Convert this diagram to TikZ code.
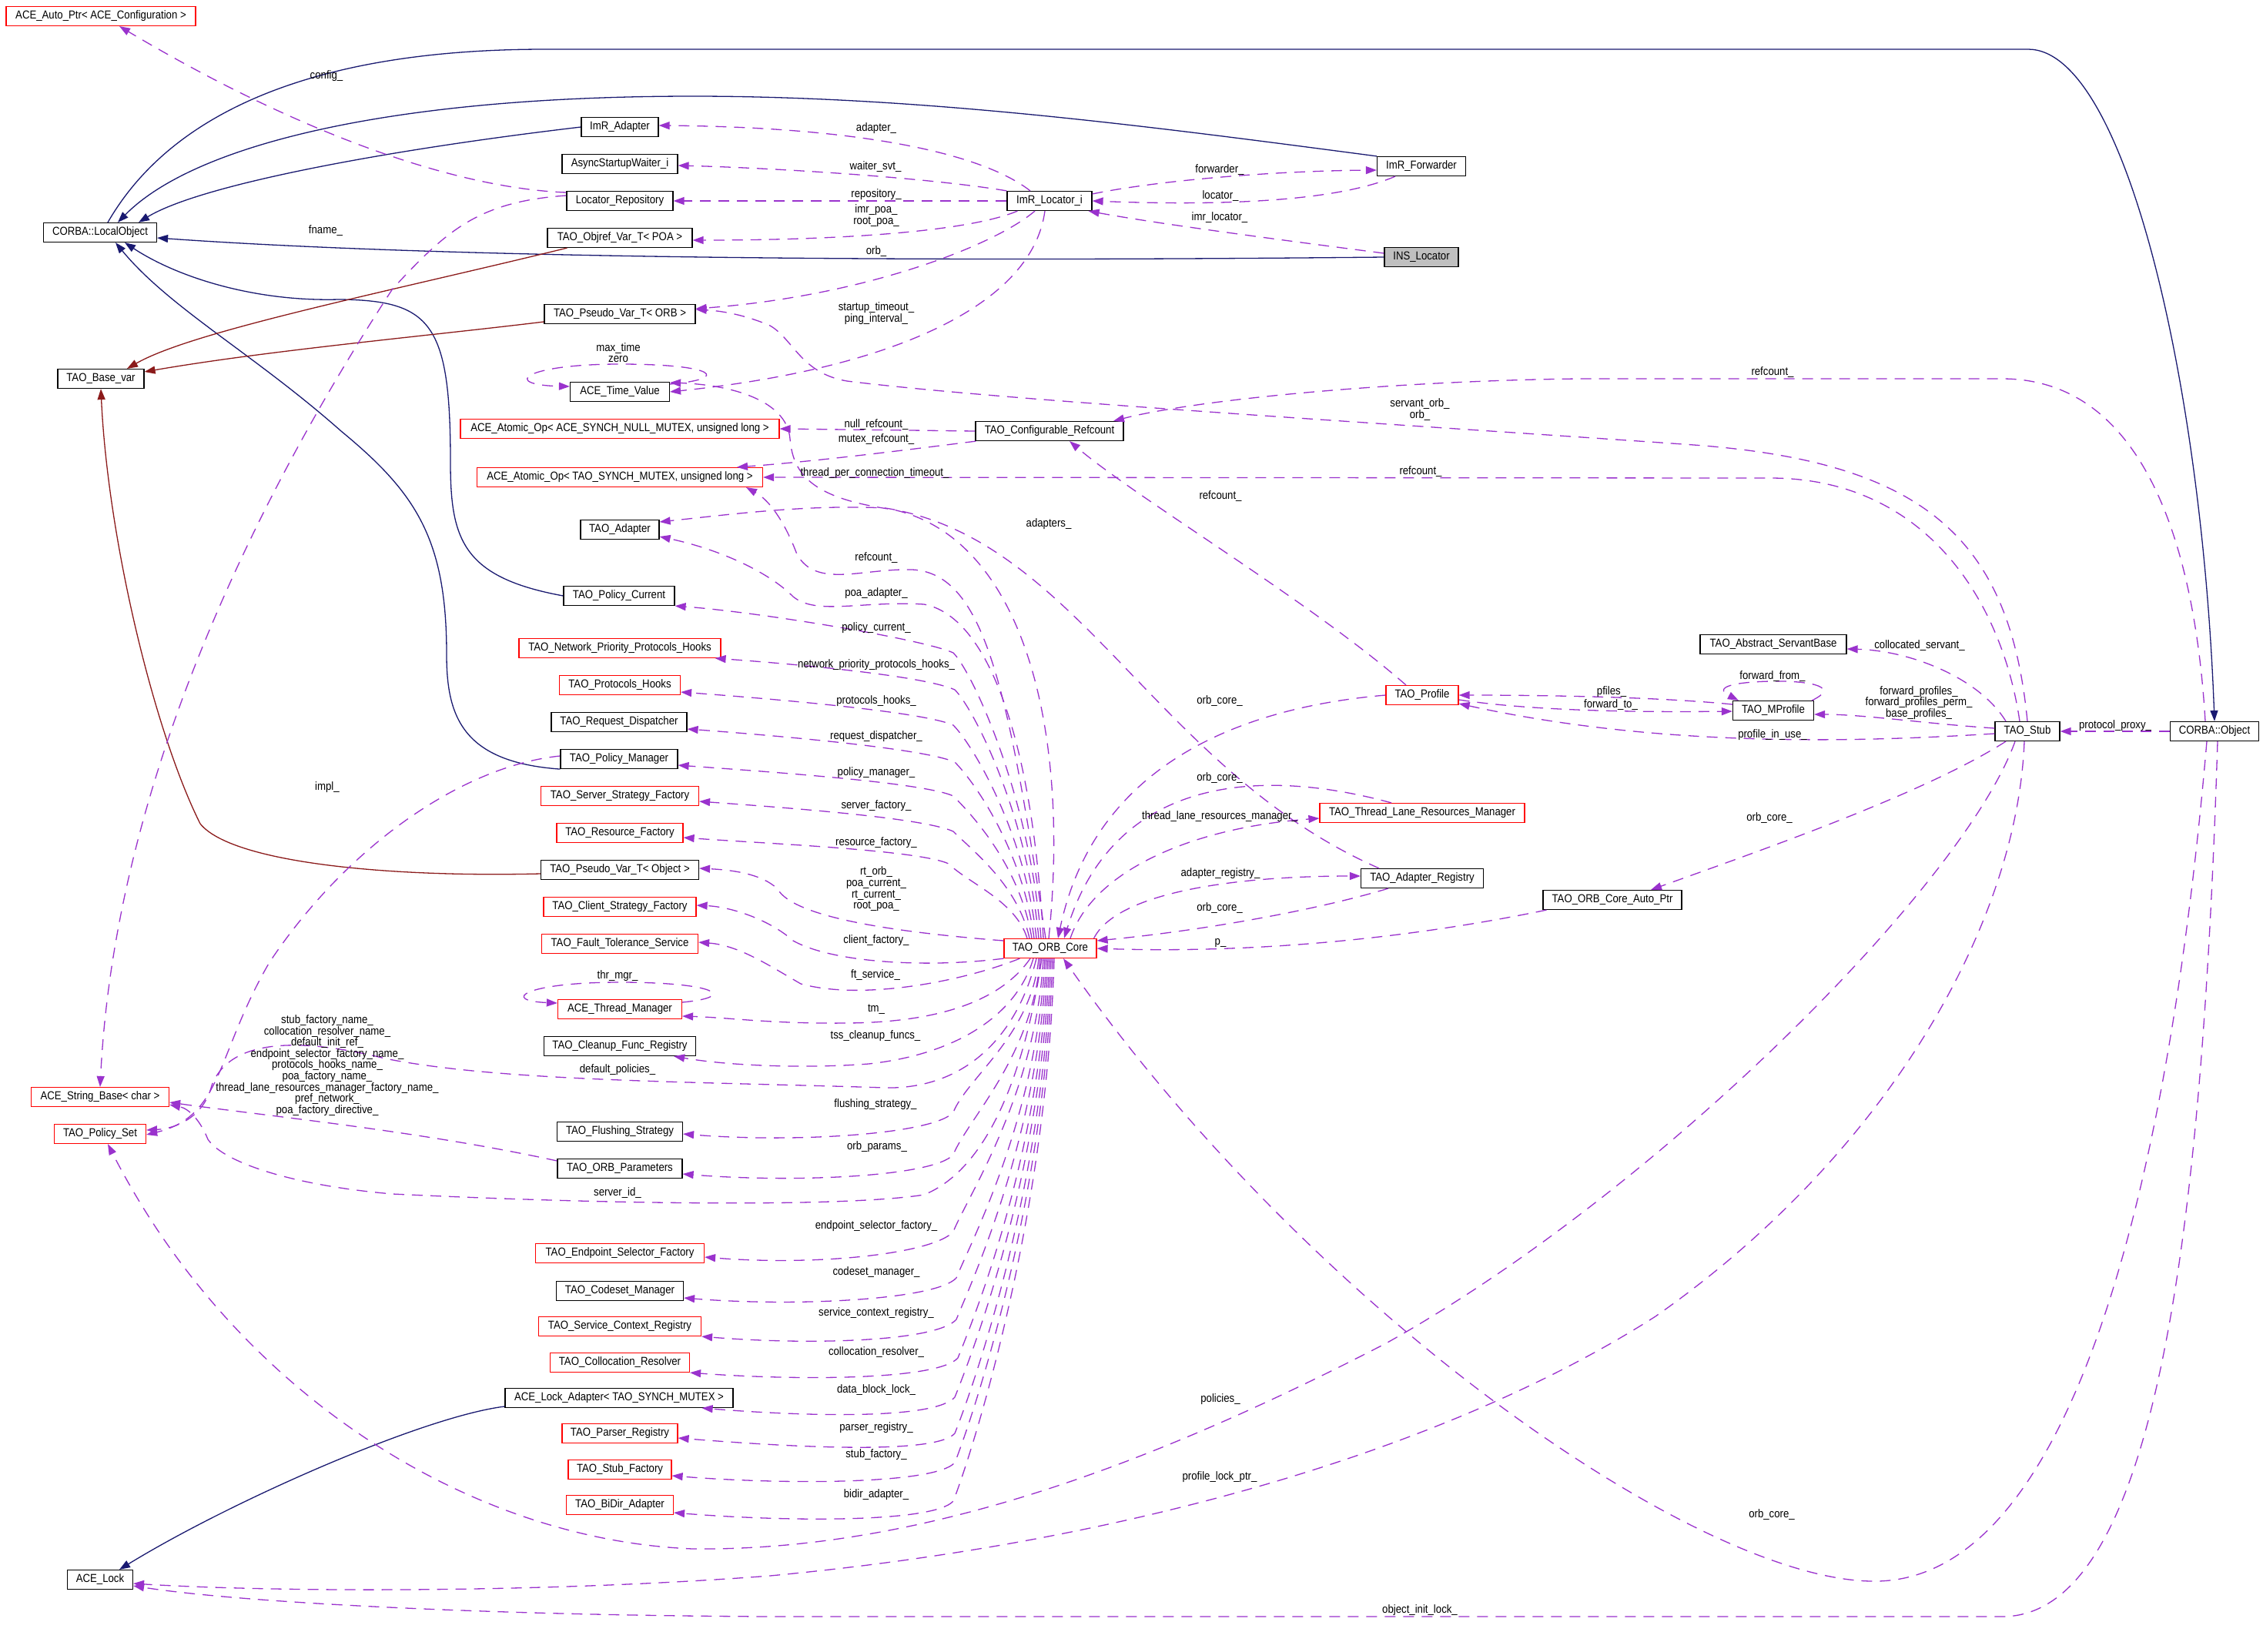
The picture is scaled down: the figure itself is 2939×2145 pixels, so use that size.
\documentclass[tikz,border=0pt]{standalone}
\usepackage{fontspec}
\setmainfont{Liberation Sans}[FakeStretch=0.88]
\usetikzlibrary{arrows.meta}
\definecolor{navyc}{HTML}{191970}
\definecolor{redc}{HTML}{8B1A1A}
\definecolor{purp}{HTML}{9A32CD}
\definecolor{nodegrey}{HTML}{BFBFBF}
\newcommand{\dfont}{\fontsize{15}{14.6}\selectfont}
\begin{document}
\begin{tikzpicture}[x=1pt,y=-1pt,
  every node/.style={font=\dfont, inner sep=0pt},
  cls/.style={draw=black, line width=1.2pt, minimum height=25pt, fill=white, inner xsep=4pt},
  redcls/.style={cls, draw=red},
  lbl/.style={align=center},
  inh/.style={draw=navyc, line width=1.3pt, -{Triangle[length=14pt,width=10pt]}},
  priv/.style={draw=redc, line width=1.3pt, -{Triangle[length=14pt,width=10pt]}},
  uses/.style={draw=purp, line width=1.3pt, dash pattern=on 14pt off 10pt, -{Triangle[length=14pt,width=10pt]}},
]
\fill[white] (0,0) rectangle (2939,2145);
\useasboundingbox (0,0) rectangle (2939,2145);

% ---------------- nodes ----------------
\node[redcls, minimum width=246pt] (autoptr) at (131,21) {ACE\_Auto\_Ptr< ACE\_Configuration >};
\node[cls, minimum width=100pt] (imra) at (805,165) {ImR\_Adapter};
\node[cls, minimum width=150pt] (async) at (805,213) {AsyncStartupWaiter\_i};
\node[cls, minimum width=138pt] (locrep) at (805,261) {Locator\_Repository};
\node[cls, minimum width=147pt] (localobj) at (130,302) {CORBA::LocalObject};
\node[cls, minimum width=188pt] (objref) at (805,309) {TAO\_Objref\_Var\_T< POA >};
\node[cls, minimum width=196pt] (pseudoorb) at (805,408) {TAO\_Pseudo\_Var\_T< ORB >};
\node[cls, minimum width=112pt] (basevar) at (131,492) {TAO\_Base\_var};
\node[cls, minimum width=129pt] (timeval) at (805,509) {ACE\_Time\_Value};
\node[redcls, minimum width=414pt] (atomnull) at (805,557) {ACE\_Atomic\_Op< ACE\_SYNCH\_NULL\_MUTEX, unsigned long >};
\node[redcls, minimum width=371pt] (atomtao) at (805,620) {ACE\_Atomic\_Op< TAO\_SYNCH\_MUTEX, unsigned long >};
\node[cls, minimum width=102pt] (adapter) at (805,688) {TAO\_Adapter};
\node[cls, minimum width=144pt] (polcur) at (804,774) {TAO\_Policy\_Current};
\node[redcls, minimum width=262pt] (netprio) at (805,842) {TAO\_Network\_Priority\_Protocols\_Hooks};
\node[redcls, minimum width=157pt] (prothooks) at (805,890) {TAO\_Protocols\_Hooks};
\node[cls, minimum width=176pt] (reqdisp) at (804,938) {TAO\_Request\_Dispatcher};
\node[cls, minimum width=152pt] (polman) at (804,986) {TAO\_Policy\_Manager};
\node[redcls, minimum width=205pt] (ssf) at (805,1034) {TAO\_Server\_Strategy\_Factory};
\node[redcls, minimum width=164pt] (resfac) at (805,1082) {TAO\_Resource\_Factory};
\node[cls, minimum width=205pt] (pseudoobj) at (805,1130) {TAO\_Pseudo\_Var\_T< Object >};
\node[redcls, minimum width=198pt] (csf) at (805,1178) {TAO\_Client\_Strategy\_Factory};
\node[redcls, minimum width=203pt] (fts) at (805,1226) {TAO\_Fault\_Tolerance\_Service};
\node[redcls, minimum width=161pt] (thrmgr) at (805,1311) {ACE\_Thread\_Manager};
\node[cls, minimum width=197pt] (cleanup) at (805,1359) {TAO\_Cleanup\_Func\_Registry};
\node[redcls, minimum width=179pt] (strbase) at (130,1425) {ACE\_String\_Base< char >};
\node[redcls, minimum width=119pt] (polset) at (130,1473) {TAO\_Policy\_Set};
\node[cls, minimum width=163pt] (flush) at (805,1470) {TAO\_Flushing\_Strategy};
\node[cls, minimum width=162pt] (orbparams) at (805,1518) {TAO\_ORB\_Parameters};
\node[redcls, minimum width=219pt] (esf) at (805,1628) {TAO\_Endpoint\_Selector\_Factory};
\node[cls, minimum width=165pt] (codeset) at (805,1677) {TAO\_Codeset\_Manager};
\node[redcls, minimum width=211pt] (scr) at (805,1723) {TAO\_Service\_Context\_Registry};
\node[redcls, minimum width=181pt] (collres) at (805,1770) {TAO\_Collocation\_Resolver};
\node[cls, minimum width=296pt] (lockad) at (804,1816) {ACE\_Lock\_Adapter< TAO\_SYNCH\_MUTEX >};
\node[redcls, minimum width=150pt] (parser) at (805,1862) {TAO\_Parser\_Registry};
\node[redcls, minimum width=134pt] (stubfac) at (805,1909) {TAO\_Stub\_Factory};
\node[redcls, minimum width=139pt] (bidir) at (805,1955) {TAO\_BiDir\_Adapter};
\node[cls, minimum width=85pt] (acelock) at (130,2052) {ACE\_Lock};
\node[cls, minimum width=110pt] (imrl) at (1363,261) {ImR\_Locator\_i};
\node[cls, minimum width=115pt] (imrf) at (1846,216) {ImR\_Forwarder};
\node[cls, fill=nodegrey, minimum width=96pt] (ins) at (1846,334) {INS\_Locator};
\node[cls, minimum width=192pt] (cref) at (1363,560) {TAO\_Configurable\_Refcount};
\node[redcls, minimum width=94pt] (profile) at (1847,903) {TAO\_Profile};
\node[redcls, minimum width=266pt] (tlrm) at (1847,1056) {TAO\_Thread\_Lane\_Resources\_Manager};
\node[cls, minimum width=159pt] (areg) at (1847,1141) {TAO\_Adapter\_Registry};
\node[redcls, minimum width=120pt] (orbcore) at (1364,1232) {TAO\_ORB\_Core};
\node[cls, minimum width=180pt] (autoptrorb) at (2094,1169) {TAO\_ORB\_Core\_Auto\_Ptr};
\node[cls, minimum width=190pt] (asb) at (2303,837) {TAO\_Abstract\_ServantBase};
\node[cls, minimum width=105pt] (mprofile) at (2303,923) {TAO\_MProfile};
\node[cls, minimum width=84pt] (stub) at (2633,950) {TAO\_Stub};
\node[cls, minimum width=115pt] (corbaobj) at (2876,950) {CORBA::Object};

% ---------------- inheritance ----------------
\draw[inh] (imra.west) .. controls (500,195) and (260,240) .. ([xshift=50pt]localobj.north);
\draw[inh] (imrf.north west) .. controls (1500,165) and (1200,125) .. (900,125) .. controls (500,125) and (250,190) .. ([xshift=23pt]localobj.north);
\draw[inh] ([xshift=10pt]localobj.north) .. controls (220,150) and (400,64) .. (708,64) -- (2634,64) .. controls (2760,64) and (2860,500) .. (corbaobj.north);
\draw[inh] (ins.west) .. controls (1000,342) and (500,330) .. ([yshift=-7pt]localobj.east);
\draw[inh] (polcur.west) .. controls (600,750) and (585,700) .. (585,600) .. controls (585,420) and (560,390) .. (440,389) .. controls (330,392) and (230,360) .. ([xshift=32pt]localobj.south);
\draw[inh] (polman.south west) .. controls (600,990) and (580,930) .. (580,850) .. controls (580,700) and (540,640) .. (443,560) .. controls (330,460) and (220,400) .. ([xshift=20pt]localobj.south);
\draw[priv] ([xshift=26pt]objref.south west) .. controls (500,380) and (250,430) .. ([xshift=34pt]basevar.north);
\draw[priv] ([yshift=-10pt]pseudoorb.west) .. controls (550,437) and (350,455) .. ([yshift=9pt]basevar.east);
\draw[priv] ([yshift=-5pt]pseudoobj.west) .. controls (500,1140) and (300,1120) .. (260,1070) .. controls (200,950) and (140,700) .. (basevar.south);
\draw[inh] ([yshift=-11pt]lockad.west) .. controls (550,1840) and (300,1950) .. ([xshift=25pt]acelock.north);

% ---------------- usage: left part ----------------
\draw[uses] ([yshift=11pt]locrep.west) .. controls (600,245) and (400,180) .. ([xshift=24pt]autoptr.south);
\draw[uses] ([yshift=7pt]locrep.west) .. controls (620,262) and (580,300) .. (510,375) .. controls (350,620) and (150,1000) .. (strbase.north);
\draw[uses] ([yshift=4pt]polman.west) .. controls (600,995) and (450,1100) .. (350,1250) .. controls (280,1370) and (290,1450) .. ([yshift=-1pt]polset.east);
\draw[uses] ([yshift=10pt]orbparams.west) .. controls (550,1470) and (350,1450) .. ([yshift=-7pt]strbase.east);

% ImR_Locator_i
\draw[uses] ([xshift=-25pt]imrl.north) .. controls (1270,195) and (1100,165) .. ([yshift=2pt]imra.east);
\draw[uses] (imrl.north west) .. controls (1200,230) and (1000,218) .. ([yshift=-2pt]async.east);
\draw[uses] (imrl.west) -- (locrep.east);
\draw[uses] ([xshift=14pt]imrl.south west) .. controls (1260,300) and (1100,312) .. ([yshift=-3pt]objref.east);
\draw[uses] ([xshift=-19pt]imrl.south) .. controls (1290,320) and (1120,385) .. ([yshift=7pt]pseudoorb.east);
\draw[uses] ([xshift=-6pt]imrl.south) .. controls (1340,400) and (1150,480) .. (timeval.east);
\draw[uses] ([yshift=9pt]imrl.east) .. controls (1500,235) and (1650,222) .. ([yshift=-5pt]imrf.west);
\draw[uses] ([xshift=-34pt]imrf.south) .. controls (1740,260) and (1600,268) .. (imrl.east);
\draw[uses] ([yshift=5pt]ins.west) .. controls (1650,310) and (1500,290) .. ([xshift=-5pt]imrl.south east);

% refcount stuff
\draw[uses] (cref.west) -- (atomnull.east);
\draw[uses] ([xshift=1pt]cref.south west) .. controls (1150,588) and (1050,600) .. ([xshift=152pt]atomtao.north);
\draw[uses] ([xshift=-21pt]profile.north) .. controls (1700,780) and (1480,650) .. ([xshift=26pt]cref.south);
\draw[uses] ([xshift=-12pt]corbaobj.north) .. controls (2850,700) and (2780,492) .. (2600,492) -- (2050,492) .. controls (1800,495) and (1550,520) .. ([xshift=83pt]cref.north);

% TAO_Stub and friends
\draw[uses] (corbaobj.west) -- (stub.east);
\draw[uses] ([xshift=-28pt]stub.north) .. controls (2570,880) and (2480,845) .. ([yshift=-6pt]asb.east);
\draw[uses] ([yshift=4pt]stub.west) .. controls (2500,940) and (2420,928) .. ([yshift=-5pt]mprofile.east);
\draw[uses] ([yshift=-3pt]stub.west) .. controls (2400,965) and (2150,970) .. ([yshift=-11pt]profile.east);
\draw[uses] (stub.north) .. controls (2610,700) and (2500,600) .. (2200,578) .. controls (1800,550) and (1300,520) .. (1100,495) .. controls (1040,485) and (1030,440) .. (1000,423) .. controls (970,410) and (940,404) .. ([yshift=6pt]pseudoorb.east);
\draw[uses] ([xshift=-10pt]stub.north) .. controls (2600,780) and (2500,621) .. (2299,621) -- (atomtao.east);
\draw[uses] ([xshift=-28pt]stub.south) .. controls (2500,1030) and (2300,1100) .. ([xshift=50pt]autoptrorb.north);
\draw[uses] ([xshift=-16pt]stub.south) .. controls (2550,1150) and (2150,1550) .. (1800,1745) .. controls (1500,1900) and (1200,2015) .. (900,2012) .. controls (600,2000) and (300,1800) .. ([xshift=10pt]polset.south);
\draw[uses] ([xshift=-4pt]stub.south) .. controls (2620,1200) and (2450,1500) .. (2150,1710) .. controls (1900,1870) and (1500,2000) .. (1000,2047) .. controls (700,2070) and (350,2068) .. ([yshift=-5pt]acelock.east);
\draw[uses] ([xshift=-10pt]corbaobj.south) .. controls (2820,1500) and (2700,2060) .. (2430,2054) .. controls (2200,2050) and (1700,1700) .. ([xshift=17pt]orbcore.south);
\draw[uses] ([xshift=4pt]corbaobj.south) .. controls (2860,1600) and (2800,2100) .. (2600,2100) -- (1000,2100) .. controls (600,2098) and (300,2080) .. ([yshift=-8pt]acelock.east);
\draw[uses] ([yshift=8pt]mprofile.west) .. controls (2150,905) and (2000,903) .. (profile.east);
\draw[uses] ([yshift=-6pt]profile.east) .. controls (2000,925) and (2150,925) .. ([yshift=-1pt]mprofile.west);
\draw[uses] ([xshift=-3pt]mprofile.north east) .. controls (2395,890) and (2340,884) .. (2300,885) .. controls (2250,886) and (2225,893) .. ([xshift=8pt]mprofile.north west);

% ORB core right side
\draw[uses] (profile.west) .. controls (1600,920) and (1420,1000) .. ([xshift=10pt]orbcore.north);
\draw[uses] ([xshift=-40pt]tlrm.north) .. controls (1650,1000) and (1450,1000) .. ([xshift=18pt]orbcore.north);
\draw[uses] ([xshift=26pt]orbcore.north) .. controls (1420,1130) and (1550,1075) .. ([yshift=-7pt]tlrm.west);
\draw[uses] ([xshift=-4pt]orbcore.north east) .. controls (1450,1160) and (1600,1138) .. ([yshift=3pt]areg.west);
\draw[uses] ([xshift=-44pt]areg.south) .. controls (1700,1185) and (1550,1210) .. ([yshift=10pt]orbcore.east);
\draw[uses] ([xshift=5pt]autoptrorb.south west) .. controls (1800,1225) and (1600,1238) .. (orbcore.east);
\draw[uses] ([xshift=-56pt]areg.north) .. controls (1500,1000) and (1400,700) .. (1150,660) .. controls (1050,655) and (950,668) .. ([yshift=10pt]adapter.east);

% ORB core -> upper column
\draw[uses] ([xshift=-2pt]orbcore.north) .. controls (1390,950) and (1330,700) .. (1160,662) .. controls (1060,648) and (1030,620) .. (1026,570) .. controls (1022,520) and (950,500) .. ([yshift=12pt]timeval.east);
\draw[uses] ([xshift=-6pt]orbcore.north) .. controls (1310,900) and (1280,745) .. (1185,740) .. controls (1120,738) and (1060,765) .. (1035,720) .. controls (1020,680) and (1000,650) .. ([xshift=164pt]atomtao.south);
\draw[uses] ([xshift=-9pt]orbcore.north) .. controls (1340,950) and (1280,800) .. (1200,785) .. controls (1120,780) and (1060,800) .. (1030,775) .. controls (1000,745) and (940,715) .. ([yshift=-9pt]adapter.east);
\draw[uses] ([xshift=-12pt]orbcore.north) .. controls (1337,1033) and (1263,873) .. (1238,848) .. controls (1198,830) and (984,795) .. (polcur.south east);
\draw[uses] ([xshift=-15pt]orbcore.north) .. controls (1334,1057) and (1265,921) .. (1240,896) .. controls (1200,878) and (1038,863) .. ([xshift=-8pt]netprio.south east);
\draw[uses] ([xshift=-18pt]orbcore.north) .. controls (1331,1080) and (1263,967) .. (1238,942) .. controls (1198,924) and (993,907) .. ([yshift=-9pt]prothooks.east);
\draw[uses] ([xshift=-21pt]orbcore.north) .. controls (1328,1104) and (1265,1015) .. (1240,990) .. controls (1200,972) and (1002,955) .. ([yshift=-9pt]reqdisp.east);
\draw[uses] ([xshift=-24pt]orbcore.north) .. controls (1325,1126) and (1263,1059) .. (1238,1034) .. controls (1198,1016) and (990,1002) .. ([yshift=-8pt]polman.east);
\draw[uses] ([xshift=-27pt]orbcore.north) .. controls (1322,1150) and (1263,1105) .. (1238,1080) .. controls (1198,1062) and (1018,1049) .. ([yshift=-7pt]ssf.east);
\draw[uses] ([xshift=-30pt]orbcore.north) .. controls (1319,1170) and (1257,1147) .. (1232,1122) .. controls (1192,1104) and (997,1096) .. ([yshift=-6pt]resfac.east);
\draw[uses] ([yshift=10pt]orbcore.west) .. controls (1150,1210) and (1030,1190) .. (1010,1155) .. controls (990,1135) and (950,1130) .. ([yshift=2pt]pseudoobj.east);
\draw[uses] (orbcore.south west) .. controls (1200,1258) and (1080,1250) .. (1030,1222) .. controls (1000,1195) and (950,1178) .. ([yshift=2pt]csf.east);
\draw[uses] ([xshift=21pt]orbcore.south west) .. controls (1250,1275) and (1120,1300) .. (1040,1278) .. controls (1000,1255) and (960,1228) .. ([yshift=2pt]fts.east);
\draw[uses] ([xshift=-26pt]orbcore.south) .. controls (1300,1300) and (1220,1328) .. (1100,1329) .. controls (1000,1330) and (950,1322) .. ([yshift=-9pt]thrmgr.east);
\draw[uses] ([xshift=-22pt]orbcore.south) .. controls (1320,1320) and (1240,1370) .. (1128,1382) .. controls (1050,1388) and (950,1385) .. ([xshift=-29pt]cleanup.south east);
\draw[uses] ([xshift=-18pt]orbcore.south) .. controls (1320,1350) and (1250,1415) .. (1150,1413) .. controls (900,1405) and (650,1405) .. (500,1375) .. controls (400,1350) and (300,1345) .. (275,1410) .. controls (265,1450) and (230,1466) .. ([yshift=5pt]polset.east);
\draw[uses] ([xshift=-11pt]orbcore.south) .. controls (1330,1400) and (1280,1520) .. (1200,1552) .. controls (1100,1568) and (800,1565) .. (510,1551) .. controls (380,1540) and (290,1510) .. (270,1480) .. controls (260,1455) and (245,1440) .. ([yshift=-10pt]strbase.east);

% ORB core -> lower column
\draw[uses] ([xshift=-15pt]orbcore.south) .. controls (1339,1345) and (1256,1400) .. (1238,1445) .. controls (1213,1473) and (1036,1485) .. ([yshift=-3pt]flush.east);
\draw[uses] ([xshift=-13pt]orbcore.south) .. controls (1341,1372) and (1256,1455) .. (1238,1500) .. controls (1213,1528) and (1036,1537) .. ([yshift=-7pt]orbparams.east);
\draw[uses] ([xshift=-9pt]orbcore.south) .. controls (1345,1422) and (1256,1555) .. (1238,1600) .. controls (1213,1628) and (1065,1645) .. ([yshift=-5pt]esf.east);
\draw[uses] ([xshift=-7pt]orbcore.south) .. controls (1347,1452) and (1260,1615) .. (1242,1660) .. controls (1217,1688) and (1037,1698) .. ([yshift=-9pt]codeset.east);
\draw[uses] ([xshift=-5pt]orbcore.south) .. controls (1349,1479) and (1260,1669) .. (1242,1714) .. controls (1217,1742) and (1060,1748) .. (scr.south east);
\draw[uses] ([xshift=-3pt]orbcore.south) .. controls (1351,1504) and (1262,1719) .. (1244,1764) .. controls (1219,1792) and (1045,1794) .. (collres.south east);
\draw[uses] ([xshift=-1pt]orbcore.south) .. controls (1353,1530) and (1258,1770) .. (1240,1815) .. controls (1215,1843) and (1061,1841) .. ([xshift=-41pt]lockad.south east);
\draw[uses] ([xshift=1pt]orbcore.south) .. controls (1355,1553) and (1258,1817) .. (1240,1862) .. controls (1215,1890) and (1030,1880) .. ([yshift=-6pt]parser.east);
\draw[uses] ([xshift=3pt]orbcore.south) .. controls (1357,1572) and (1258,1855) .. (1240,1900) .. controls (1215,1928) and (1022,1929) .. ([yshift=-8pt]stubfac.east);
\draw[uses] ([xshift=5pt]orbcore.south) .. controls (1359,1597) and (1256,1905) .. (1238,1950) .. controls (1213,1978) and (1024,1977) .. ([yshift=-10pt]bidir.east);

% self loops
\draw[uses] ([yshift=10pt]timeval.east) .. controls (950,492) and (930,473) .. (805,473) .. controls (680,473) and (650,500) .. ([yshift=7pt]timeval.west);
\draw[uses] ([yshift=9pt]thrmgr.east) .. controls (960,1295) and (930,1276) .. (805,1276) .. controls (680,1276) and (650,1300) .. ([yshift=8pt]thrmgr.west);

% ---------------- labels ----------------
\node[lbl] (l01) at (424,99) {config\_};
\node[lbl] (l02) at (423,300) {fname\_};
\node[lbl] (l03) at (803,458) {max\_time\\zero};
\node[lbl] (l04) at (425,1023) {impl\_};
\node[lbl] (l05) at (802,1268) {thr\_mgr\_};
\node[lbl] (l06) at (802,1390) {default\_policies\_};
\node[lbl] (l07) at (802,1550) {server\_id\_};
\node[lbl] (l08) at (425,1384) {stub\_factory\_name\_\\collocation\_resolver\_name\_\\default\_init\_ref\_\\endpoint\_selector\_factory\_name\_\\protocols\_hooks\_name\_\\poa\_factory\_name\_\\thread\_lane\_resources\_manager\_factory\_name\_\\pref\_network\_\\poa\_factory\_directive\_};
\node[lbl] (l09) at (1138,167) {adapter\_};
\node[lbl] (l10) at (1137,217) {waiter\_svt\_};
\node[lbl] (l11) at (1138,253) {repository\_};
\node[lbl] (l12) at (1138,280) {imr\_poa\_\\root\_poa\_};
\node[lbl] (l13) at (1138,327) {orb\_};
\node[lbl] (l14) at (1138,407) {startup\_timeout\_\\ping\_interval\_};
\node[lbl] (l15) at (1138,552) {null\_refcount\_};
\node[lbl] (l16) at (1138,571) {mutex\_refcount\_};
\node[lbl] (l17) at (1136,615) {thread\_per\_connection\_timeout\_};
\node[lbl] (l18) at (1138,725) {refcount\_};
\node[lbl] (l19) at (1138,771) {poa\_adapter\_};
\node[lbl] (l20) at (1138,816) {policy\_current\_};
\node[lbl] (l21) at (1138,864) {network\_priority\_protocols\_hooks\_};
\node[lbl] (l22) at (1138,911) {protocols\_hooks\_};
\node[lbl] (l23) at (1138,957) {request\_dispatcher\_};
\node[lbl] (l24) at (1138,1004) {policy\_manager\_};
\node[lbl] (l25) at (1138,1047) {server\_factory\_};
\node[lbl] (l26) at (1138,1095) {resource\_factory\_};
\node[lbl] (l27) at (1138,1155) {rt\_orb\_\\poa\_current\_\\rt\_current\_\\root\_poa\_};
\node[lbl] (l28) at (1138,1222) {client\_factory\_};
\node[lbl] (l29) at (1137,1267) {ft\_service\_};
\node[lbl] (l30) at (1138,1311) {tm\_};
\node[lbl] (l31) at (1137,1346) {tss\_cleanup\_funcs\_};
\node[lbl] (l32) at (1137,1435) {flushing\_strategy\_};
\node[lbl] (l33) at (1139,1490) {orb\_params\_};
\node[lbl] (l34) at (1138,1593) {endpoint\_selector\_factory\_};
\node[lbl] (l35) at (1138,1653) {codeset\_manager\_};
\node[lbl] (l36) at (1138,1706) {service\_context\_registry\_};
\node[lbl] (l37) at (1138,1757) {collocation\_resolver\_};
\node[lbl] (l38) at (1138,1806) {data\_block\_lock\_};
\node[lbl] (l39) at (1138,1855) {parser\_registry\_};
\node[lbl] (l40) at (1138,1890) {stub\_factory\_};
\node[lbl] (l41) at (1138,1942) {bidir\_adapter\_};
\node[lbl] (l42) at (1584,221) {forwarder\_};
\node[lbl] (l43) at (1585,255) {locator\_};
\node[lbl] (l44) at (1584,283) {imr\_locator\_};
\node[lbl] (l45) at (1585,645) {refcount\_};
\node[lbl] (l46) at (1362,681) {adapters\_};
\node[lbl] (l47) at (1584,911) {orb\_core\_};
\node[lbl] (l48) at (1584,1011) {orb\_core\_};
\node[lbl] (l49) at (1584,1061) {thread\_lane\_resources\_manager\_};
\node[lbl] (l50) at (1585,1135) {adapter\_registry\_};
\node[lbl] (l51) at (1584,1180) {orb\_core\_};
\node[lbl] (l52) at (1585,1225) {p\_};
\node[lbl] (l53) at (1585,1818) {policies\_};
\node[lbl] (l54) at (1584,1919) {profile\_lock\_ptr\_};
\node[lbl] (l55) at (1844,532) {servant\_orb\_\\orb\_};
\node[lbl] (l56) at (1845,613) {refcount\_};
\node[lbl] (l57) at (2302,484) {refcount\_};
\node[lbl] (l58) at (1844,2092) {object\_init\_lock\_};
\node[lbl] (l59) at (2493,839) {collocated\_servant\_};
\node[lbl] (l60) at (2302,879) {forward\_from\_};
\node[lbl] (l61) at (2093,899) {pfiles\_};
\node[lbl] (l62) at (2092,916) {forward\_to\_};
\node[lbl] (l63) at (2492,913) {forward\_profiles\_\\forward\_profiles\_perm\_\\base\_profiles\_};
\node[lbl] (l64) at (2747,943) {protocol\_proxy\_};
\node[lbl] (l65) at (2302,955) {profile\_in\_use\_};
\node[lbl] (l66) at (2298,1063) {orb\_core\_};
\node[lbl] (l67) at (2301,1968) {orb\_core\_};
\end{tikzpicture}
\end{document}
